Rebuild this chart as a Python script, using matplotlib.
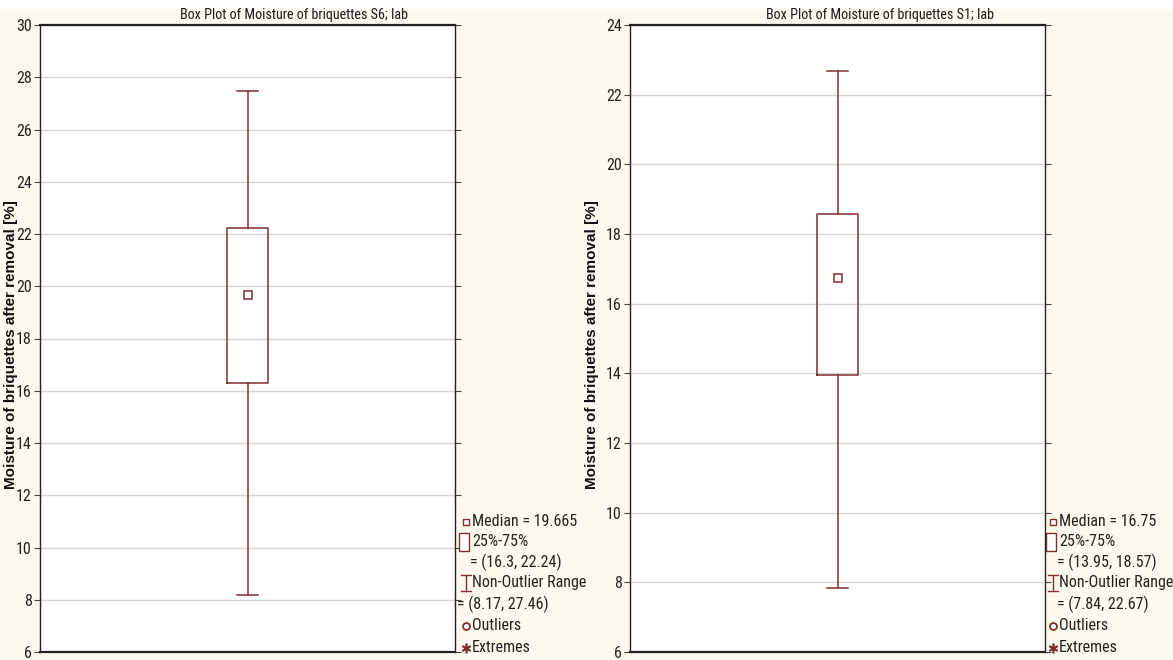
import matplotlib
matplotlib.use("Agg")
import matplotlib.pyplot as plt
from matplotlib import font_manager as fm

# pick a narrow / condensed font if available
cand = None
for key in ["LiberationSansNarrow-Regular", "ArialNarrow", "RobotoCondensed-Regular", "DejaVuSansCondensed.ttf"]:
    for f in fm.fontManager.ttflist:
        if key.lower() in f.fname.replace("\\", "/").split("/")[-1].lower():
            cand = f.fname
            break
    if cand:
        break
names = {f.name for f in fm.fontManager.ttflist}
BOLD = "Liberation Sans" if "Liberation Sans" in names else "DejaVu Sans"


def nfp(size):
    if cand:
        return fm.FontProperties(fname=cand, size=size)
    return fm.FontProperties(family="Liberation Sans", size=size * 0.85)


# ---- data ----
titles = ["Box Plot of Moisture of briquettes S6; lab", "Box Plot of Moisture of briquettes S1; lab"]
ylabel = "Moisture of briquettes after removal [%]"
medians = [19.665, 16.75]
q1s = [16.3, 13.95]
q3s = [22.24, 18.57]
mins = [8.17, 7.84]
maxs = [27.46, 22.67]
ylims = [(6, 30), (6, 24)]
yticks = [list(range(6, 31, 2)), list(range(6, 25, 2))]
range_txt = ["= (16.3, 22.24)", "= (13.95, 18.57)"]
nonout_txt = ["= (8.17, 27.46)", "= (7.84, 22.67)"]
median_txt = ["Median = 19.665", "Median = 16.75"]

BOXC = "#7e2f2f"
BG = "#fdf9ee"
W, H = 1173, 660

fig = plt.figure(figsize=(W / 100, H / 100), dpi=100, facecolor=BG)
fig.patches.append(plt.Rectangle((0, 1 - 9 / H), 1, 9 / H, transform=fig.transFigure,
                                 facecolor="white", edgecolor="none", zorder=0))

ax_x = [40, 630]
ax_w = 415
ax_top, ax_bot = 25, 652
title_cx = [294, 880]
ylab_x = [11, 592]

for i in range(2):
    ax = fig.add_axes([ax_x[i] / W, (H - ax_bot) / H, ax_w / W, (ax_bot - ax_top) / H])
    ax.set_facecolor("white")
    stats = [dict(med=medians[i], q1=q1s[i], q3=q3s[i], whislo=mins[i], whishi=maxs[i], fliers=[])]
    ax.bxp(stats, positions=[1], widths=0.1, showfliers=False,
           boxprops=dict(color=BOXC, linewidth=1.1),
           whiskerprops=dict(color=BOXC, linewidth=1.1),
           capprops=dict(color=BOXC, linewidth=1.1),
           medianprops=dict(linestyle="none"),
           capwidths=0.05)
    ax.plot([1], [medians[i]], marker="s", markersize=5.5, mfc="white", mec=BOXC, mew=1.1,
            linestyle="none")
    ax.set_xlim(0.5, 1.5)
    ax.set_ylim(*ylims[i])
    ax.set_yticks(yticks[i])
    ax.set_xticks([])
    ax.yaxis.grid(True, color="#d6d6d6", linewidth=1)
    ax.set_axisbelow(True)
    ax.tick_params(axis="y", direction="out", length=4, width=0.8, color="#444444",
                   right=True, pad=2)
    for lab in ax.get_yticklabels():
        lab.set_fontproperties(nfp(11.5))
        lab.set_color("#222222")
    for sp in ax.spines.values():
        sp.set_color("#222222")
        sp.set_linewidth(1.0)
    ax.spines["top"].set_linewidth(1.6)
    ax.spines["bottom"].set_linewidth(1.6)

    fig.text(title_cx[i] / W, 1 - 15 / H, titles[i], ha="center", va="center",
             fontproperties=nfp(10.2), color="#1a1a1a")
    fig.text(ylab_x[i] / W, 1 - 345 / H, ylabel, rotation=90, ha="center", va="center",
             fontsize=11, fontweight="bold", family=BOLD, color="#111111")

    # legend
    right = ax_x[i] + ax_w
    gx = right + 11 if i == 0 else right + 8
    tx = gx + 6
    rows = [522, 542, 562, 583, 604, 626, 648]

    def fy(y):
        return 1 - y / H
    kw = dict(transform=fig.transFigure, clip_on=False)
    ax.plot([gx / W], [fy(rows[0])], marker="s", markersize=5, mfc="white", mec=BOXC, mew=1.0, **kw)
    ax.add_patch(plt.Rectangle(((gx - 7) / W, fy(rows[1] + 9)), 10 / W, 18 / H, transform=fig.transFigure,
                               facecolor="white", edgecolor=BOXC, linewidth=1.0, clip_on=False))
    ax.plot([gx / W, gx / W], [fy(rows[3] - 8), fy(rows[3] + 8)], color=BOXC, lw=1.0, **kw)
    ax.plot([(gx - 5) / W, (gx + 5) / W], [fy(rows[3] - 8)] * 2, color=BOXC, lw=1.0, **kw)
    ax.plot([(gx - 5) / W, (gx + 5) / W], [fy(rows[3] + 8)] * 2, color=BOXC, lw=1.0, **kw)
    ax.plot([gx / W], [fy(rows[5])], marker="o", markersize=5, mfc="white", mec=BOXC, mew=1.3, **kw)
    ax.plot([gx / W], [fy(rows[6])], marker=(6, 2, 0), markersize=7, color=BOXC, mew=1.2, **kw)

    tk = dict(ha="left", va="center", fontproperties=nfp(11.5), color="#222222")
    fig.text(tx / W, fy(rows[0]), median_txt[i], **tk)
    fig.text(tx / W, fy(rows[1]), "25%-75%", **tk)
    fig.text((tx - 2) / W, fy(rows[2]), range_txt[i], **tk)
    fig.text(tx / W, fy(rows[3]), "Non-Outlier Range", **tk)
    fig.text(((right + 2) if i == 0 else (tx - 2)) / W, fy(rows[4]), nonout_txt[i], **tk)
    fig.text(tx / W, fy(rows[5]), "Outliers", **tk)
    fig.text(tx / W, fy(rows[6]), "Extremes", **tk)

fig.savefig("out.png", dpi=100, facecolor=BG)
